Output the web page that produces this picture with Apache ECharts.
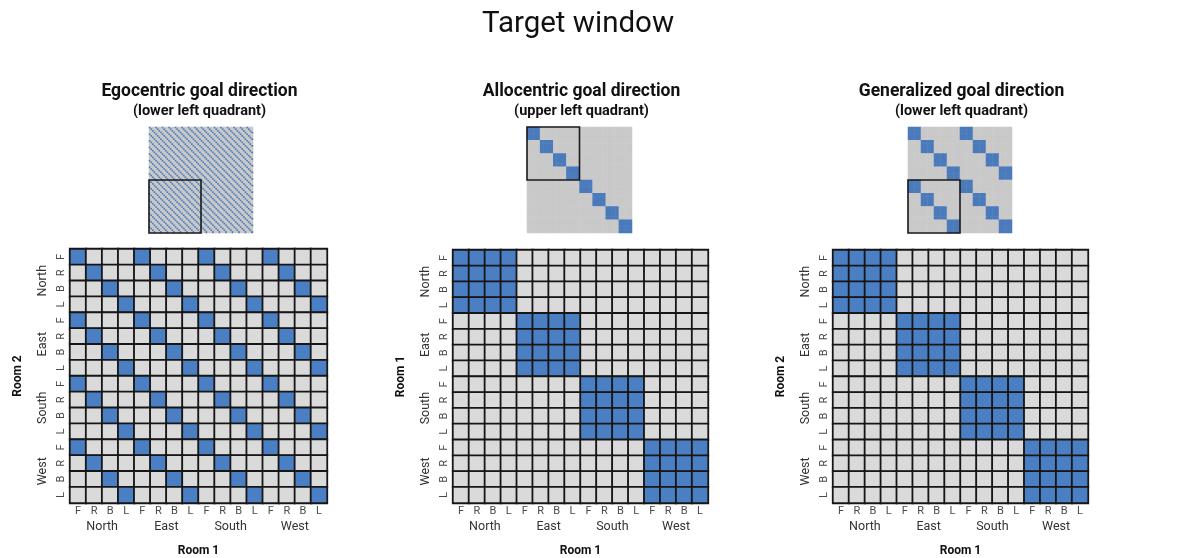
<!DOCTYPE html>
<html>
<head>
<meta charset="utf-8">
<script src="https://cdn.jsdelivr.net/npm/echarts@6/dist/echarts.min.js"></script>
<style>
  html, body { margin: 0; padding: 0; background: #ffffff; }
  #chart { width: 1193px; height: 558px; }
</style>
</head>
<body>
<div id="chart"></div>
<script>
// Rooms and facing directions that label both axes of every matrix
const rooms = ['North', 'East', 'South', 'West'];
const dirs = ['F', 'R', 'B', 'L'];

// 16x16 matrices (rows = Room 2 / Room 1 states, columns = Room 1 states); 1 = same goal direction
const egoRows = [
  '1000100010001000', '0100010001000100', '0010001000100010', '0001000100010001',
  '1000100010001000', '0100010001000100', '0010001000100010', '0001000100010001',
  '1000100010001000', '0100010001000100', '0010001000100010', '0001000100010001',
  '1000100010001000', '0100010001000100', '0010001000100010', '0001000100010001'
];
const alloRows = [
  '1111000000000000', '1111000000000000', '1111000000000000', '1111000000000000',
  '0000111100000000', '0000111100000000', '0000111100000000', '0000111100000000',
  '0000000011110000', '0000000011110000', '0000000011110000', '0000000011110000',
  '0000000000001111', '0000000000001111', '0000000000001111', '0000000000001111'
];
const genRows = [
  '1111000000000000', '1111000000000000', '1111000000000000', '1111000000000000',
  '0000111100000000', '0000111100000000', '0000111100000000', '0000111100000000',
  '0000000011110000', '0000000011110000', '0000000011110000', '0000000011110000',
  '0000000000001111', '0000000000001111', '0000000000001111', '0000000000001111'
];
const noneRows = [
  '0000000000000000', '0000000000000000', '0000000000000000', '0000000000000000',
  '0000000000000000', '0000000000000000', '0000000000000000', '0000000000000000',
  '0000000000000000', '0000000000000000', '0000000000000000', '0000000000000000',
  '0000000000000000', '0000000000000000', '0000000000000000', '0000000000000000'
];

// Overview thumbnails: which 16x16 block sits in each tile of the full window matrix
const egoThumbTiles = [
  ['ego', 'ego', 'ego', 'ego'],
  ['ego', 'ego', 'ego', 'ego'],
  ['ego', 'ego', 'ego', 'ego'],
  ['ego', 'ego', 'ego', 'ego']
];
const alloThumbTiles = [
  ['allo', 'none'],
  ['none', 'allo']
];
const genThumbTiles = [
  ['gen', 'gen'],
  ['gen', 'gen']
];

const blocks = { ego: egoRows, allo: alloRows, gen: genRows, none: noneRows };

const panels = [
  { title: 'Egocentric goal direction', sub: '(lower left quadrant)', rows: egoRows, yName: 'Room 2',
    tiles: egoThumbTiles, quadrant: 'lower left',
    grid: { left: 70, top: 249, width: 257, height: 256 },
    thumb: { left: 149, top: 127, width: 104, height: 106 } },
  { title: 'Allocentric goal direction', sub: '(upper left quadrant)', rows: alloRows, yName: 'Room 1',
    tiles: alloThumbTiles, quadrant: 'upper left',
    grid: { left: 453, top: 250, width: 255, height: 254 },
    thumb: { left: 527, top: 127, width: 105, height: 106 } },
  { title: 'Generalized goal direction', sub: '(lower left quadrant)', rows: genRows, yName: 'Room 2',
    tiles: genThumbTiles, quadrant: 'lower left',
    grid: { left: 833, top: 250, width: 255, height: 254 },
    thumb: { left: 908, top: 127, width: 104, height: 106 } }
];

const stateLabels = [];
rooms.forEach(() => dirs.forEach(d => stateLabels.push(d)));

function rowsToCells(rows) {
  const out = [];
  rows.forEach((row, r) => {
    for (let c = 0; c < row.length; c++) out.push([c, r, row[c] === '1' ? 1 : 0]);
  });
  return out;
}

function tilesToRows(tiles) {
  const rows = [];
  tiles.forEach(tileRow => {
    for (let r = 0; r < 16; r++) {
      rows.push(tileRow.map(name => blocks[name][r]).join(''));
    }
  });
  return rows;
}

function quadrantBox(n, quadrant) {
  const h = n / 2;
  const rowStart = quadrant.indexOf('lower') === 0 ? h : 0;
  const colStart = quadrant.indexOf('right') > 0 ? h : 0;
  return [colStart, rowStart, colStart + h - 1, rowStart + h - 1];
}

const grids = [], xAxes = [], yAxes = [], series = [], graphics = [];
const mainSeries = [], thumbSeries = [];

const tickFont = { fontFamily: 'Roboto', fontSize: 11, color: '#4a4a4a' };
const groupFont = { fontFamily: 'Roboto', fontSize: 12.5, color: '#333333' };
const nameFont = { fontFamily: 'Roboto', fontSize: 12, fontWeight: 'bold', color: '#111111' };

graphics.push({
  type: 'text', x: 578, y: 25,
  style: { text: 'Target window', font: '29.5px Roboto', fill: '#111111',
           textAlign: 'center', textVerticalAlign: 'middle' }
});

panels.forEach((p, i) => {
  const cx = p.grid.left + p.grid.width / 2;
  graphics.push({
    type: 'text', x: cx + 1, y: 92,
    style: { text: p.title, font: 'bold 17.5px Roboto', fill: '#111111',
             textAlign: 'center', textVerticalAlign: 'middle' }
  });
  graphics.push({
    type: 'text', x: cx + 1, y: 111,
    style: { text: p.sub, font: 'bold 14.5px Roboto', fill: '#111111',
             textAlign: 'center', textVerticalAlign: 'middle' }
  });

  // main matrix
  const gMain = grids.length;
  grids.push(Object.assign({ containLabel: false }, p.grid));
  const xm = xAxes.length;
  xAxes.push({
    type: 'category', gridIndex: gMain, data: stateLabels, position: 'bottom',
    axisLine: { show: false }, axisTick: { show: false }, splitLine: { show: false },
    axisLabel: Object.assign({ margin: 3, interval: 0 }, tickFont)
  });
  xAxes.push({
    type: 'category', gridIndex: gMain, data: rooms, position: 'bottom', offset: 15,
    axisLine: { show: false }, axisTick: { show: false }, splitLine: { show: false },
    axisLabel: Object.assign({ margin: 2, interval: 0 }, groupFont),
    name: 'Room 1', nameLocation: 'middle', nameGap: 27, nameTextStyle: nameFont
  });
  const ym = yAxes.length;
  yAxes.push({
    type: 'category', gridIndex: gMain, data: stateLabels, inverse: true, position: 'left',
    axisLine: { show: false }, axisTick: { show: false }, splitLine: { show: false },
    axisLabel: Object.assign({ margin: 3, interval: 0, rotate: 90 }, tickFont)
  });
  yAxes.push({
    type: 'category', gridIndex: gMain, data: rooms, inverse: true, position: 'left', offset: 18,
    axisLine: { show: false }, axisTick: { show: false }, splitLine: { show: false },
    axisLabel: Object.assign({ margin: 3, interval: 0, rotate: 90 }, groupFont),
    name: p.yName, nameLocation: 'middle', nameGap: 28, nameRotate: 90, nameTextStyle: nameFont
  });
  mainSeries.push(series.length);
  series.push({
    type: 'heatmap', xAxisIndex: xm, yAxisIndex: ym, data: rowsToCells(p.rows),
    itemStyle: { borderColor: '#161616', borderWidth: 1.8 },
    emphasis: { disabled: true }, silent: true, z: 2
  });

  // overview thumbnail of the whole window matrix
  const thumbRows = tilesToRows(p.tiles);
  const n = thumbRows.length;
  const idx = [];
  for (let k = 0; k < n; k++) idx.push(String(k));
  const gThumb = grids.length;
  grids.push(Object.assign({ containLabel: false }, p.thumb));
  const xt = xAxes.length;
  xAxes.push({ type: 'category', gridIndex: gThumb, data: idx, show: false });
  const yt = yAxes.length;
  yAxes.push({ type: 'category', gridIndex: gThumb, data: idx, inverse: true, show: false });
  thumbSeries.push(series.length);
  series.push({
    type: 'heatmap', xAxisIndex: xt, yAxisIndex: yt, data: rowsToCells(thumbRows),
    itemStyle: { borderWidth: 0 },
    emphasis: { disabled: true }, silent: true, z: 2
  });
  series.push({
    type: 'custom', xAxisIndex: xt, yAxisIndex: yt, silent: true, z: 5,
    dimensions: ['x0', 'y0', 'x1', 'y1'],
    encode: { x: [0, 2], y: [1, 3] },
    data: [quadrantBox(n, p.quadrant)],
    renderItem: function (params, api) {
      const a = api.coord([api.value(0), api.value(1)]);
      const b = api.coord([api.value(2), api.value(3)]);
      const s = api.size([1, 1]);
      const x0 = Math.min(a[0], b[0]) - s[0] / 2;
      const x1 = Math.max(a[0], b[0]) + s[0] / 2;
      const y0 = Math.min(a[1], b[1]) - s[1] / 2;
      const y1 = Math.max(a[1], b[1]) + s[1] / 2;
      return {
        type: 'rect',
        shape: { x: x0, y: y0, width: x1 - x0, height: y1 - y0 },
        style: { fill: 'none', stroke: '#1a1a1a', lineWidth: 1.6 }
      };
    }
  });
});

const chart = echarts.init(document.getElementById('chart'), null, { renderer: 'canvas' });
chart.setOption({
  backgroundColor: '#ffffff',
  animation: false,
  grid: grids,
  xAxis: xAxes,
  yAxis: yAxes,
  visualMap: [
    { type: 'piecewise', show: false, dimension: 2, seriesIndex: mainSeries,
      pieces: [{ value: 0, color: '#dadada' }, { value: 1, color: '#4a7fc4' }] },
    { type: 'piecewise', show: false, dimension: 2, seriesIndex: thumbSeries,
      pieces: [{ value: 0, color: '#c9c9c9' }, { value: 1, color: '#4b7abb' }] }
  ],
  series: series,
  graphic: graphics
});
</script>
</body>
</html>
